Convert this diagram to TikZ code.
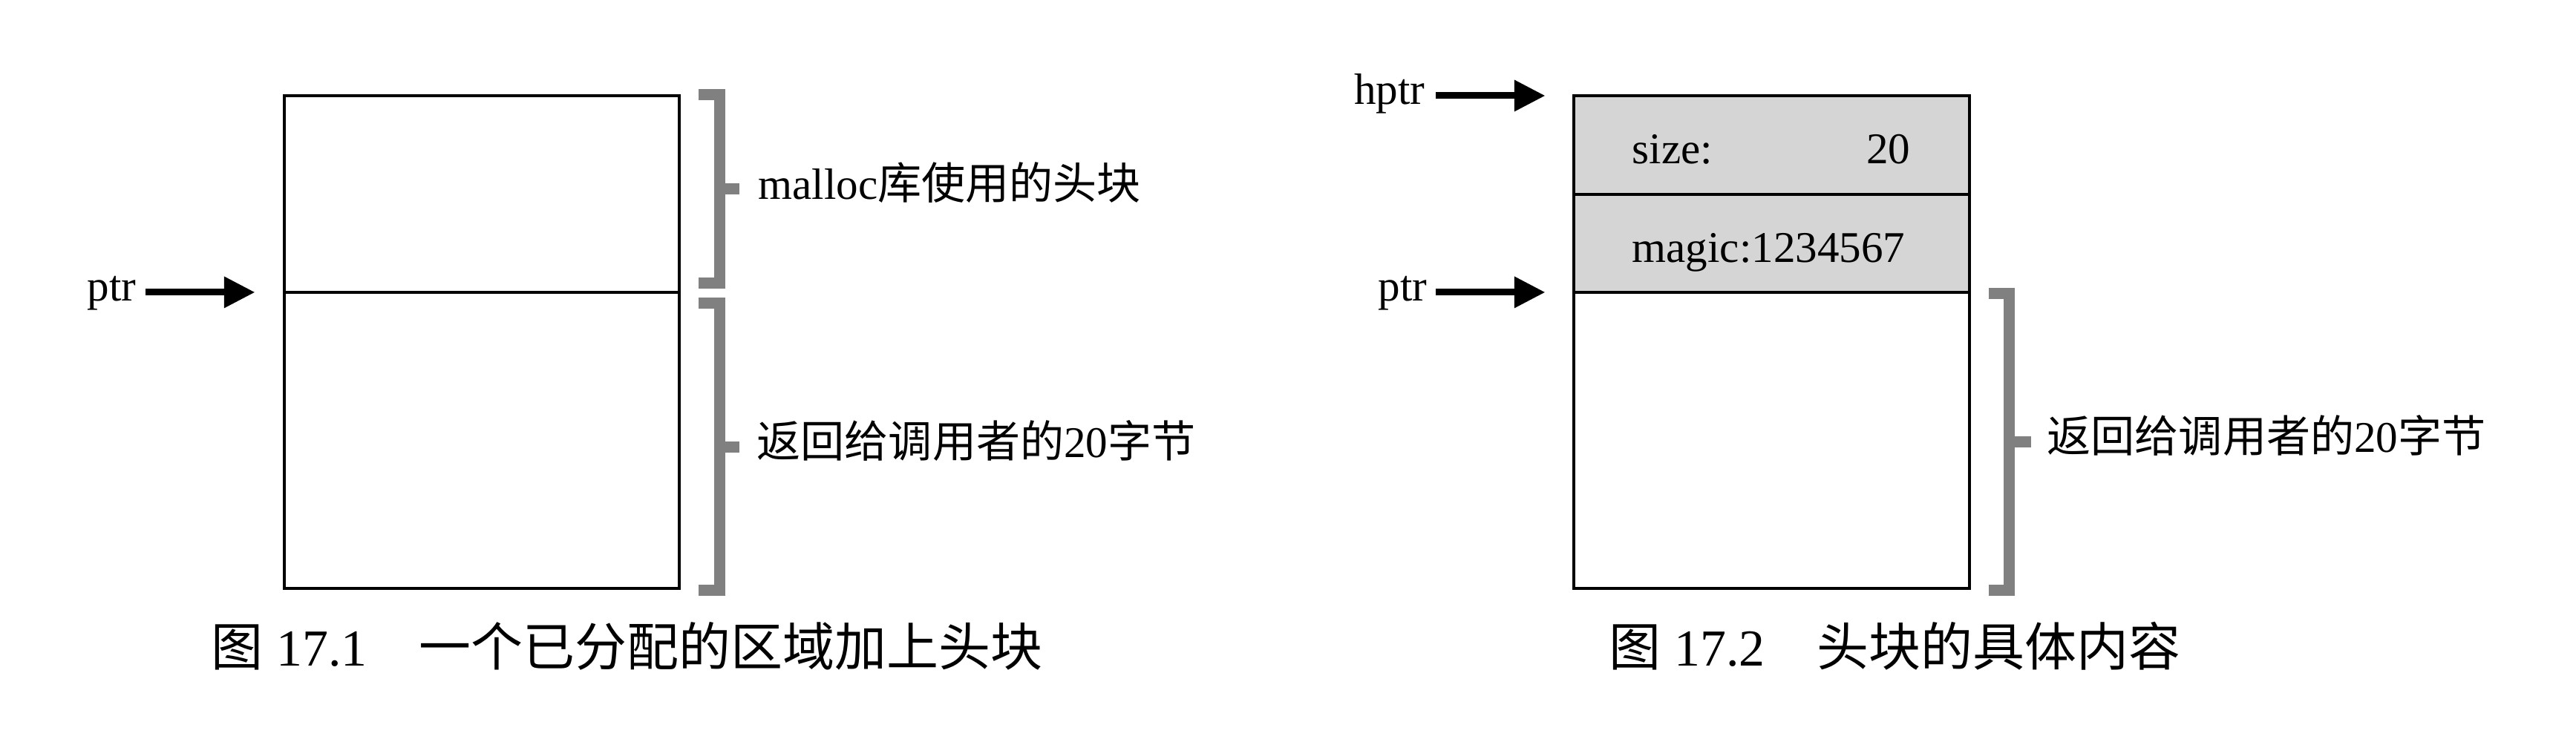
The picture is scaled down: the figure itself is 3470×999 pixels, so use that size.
\documentclass[tikz,border=0pt]{standalone}
\usepackage{fontspec}
\setmainfont{Liberation Serif}
\newfontfamily\cjk{Noto Sans CJK SC}
\usetikzlibrary{arrows.meta}
\definecolor{brkgray}{RGB}{128,128,128}
\definecolor{cellgray}{RGB}{213,213,213}
\begin{document}
\begin{tikzpicture}[x=0.01cm,y=-0.01cm,
  lbl/.style={font=\fontsize{16.8pt}{20pt}\selectfont, inner sep=0pt},
  captext/.style={font=\fontsize{19.9pt}{24pt}\selectfont, inner sep=0pt},
  cellbox/.style={draw=black, line width=0.035cm, inner sep=0pt, outer sep=0pt},
  ptrarrow/.style={line width=0.09cm, -{Triangle[length=0.41cm,width=0.43cm,line width=0pt]}},
  bracket/.style={draw=brkgray, line width=0.15cm, line join=miter}]
\useasboundingbox (0,0) rectangle (3470,999);

% ---------- Figure 17.1 ----------
\node[cellbox, minimum width=5.32cm, minimum height=2.65cm] (lhead) at (649,261.5) {};
\node[cellbox, minimum width=5.32cm, minimum height=3.99cm] (lbody) at (649,593.5) {};

\node[lbl, anchor=base east] (lptr) at (184,405) {ptr};
\draw[ptrarrow] ([xshift=0.12cm]lptr.east |- lbody.north west) -- ([xshift=-0.40cm]lbody.north west);

\draw[bracket] (941,127.5) -- (969,127.5) -- (969,381.5) -- (941,381.5);
\draw[bracket] (969,254.5) -- (996,254.5);
\draw[bracket] (941,408.5) -- (969,408.5) -- (969,795.5) -- (941,795.5);
\draw[bracket] (969,602) -- (996,602);

\node[lbl, anchor=base west] (lhdr) at (1021,268) {malloc{\cjk 库使用的头块}};
\node[lbl, anchor=base west] (lret) at (1019,616) {{\cjk 返回给调用者的}20{\cjk 字节}};

\node[captext, anchor=base west] (cap1) at (284,897) {{\cjk 图} 17.1\quad{\cjk 一个已分配的区域加上头块}};

% ---------- Figure 17.2 ----------
\node[cellbox, fill=cellgray, minimum width=5.33cm, minimum height=1.33cm] (rsize) at (2386.5,195.5) {};
\node[cellbox, fill=cellgray, minimum width=5.33cm, minimum height=1.32cm] (rmagic) at (2386.5,328) {};
\node[cellbox, minimum width=5.33cm, minimum height=3.99cm] (rbody) at (2386.5,593.5) {};

\node[lbl, anchor=base west] (sizel) at (2198,220) {size:};
\node[lbl, anchor=base east] (sizev) at (2574,220) {20};
\node[lbl, anchor=base west] (magic) at (2198,353) {magic:1234567};

\node[lbl, anchor=base east] (hptr) at (1920,140) {hptr};
\draw[ptrarrow] ([xshift=0.14cm]hptr.east |- rsize.north west) -- ([xshift=-0.39cm]rsize.north west);
\node[lbl, anchor=base east] (rptr) at (1923,405) {ptr};
\draw[ptrarrow] ([xshift=0.11cm]rptr.east |- rbody.north west) -- ([xshift=-0.39cm]rbody.north west);

\draw[bracket] (2679,395) -- (2706.5,395) -- (2706.5,795.5) -- (2679,795.5);
\draw[bracket] (2706.5,595) -- (2736,595);

\node[lbl, anchor=base west] (rret) at (2757,609) {{\cjk 返回给调用者的}20{\cjk 字节}};

\node[captext, anchor=base west] (cap2) at (2167,897) {{\cjk 图} 17.2\quad{\cjk 头块的具体内容}};
\end{tikzpicture}
\end{document}
